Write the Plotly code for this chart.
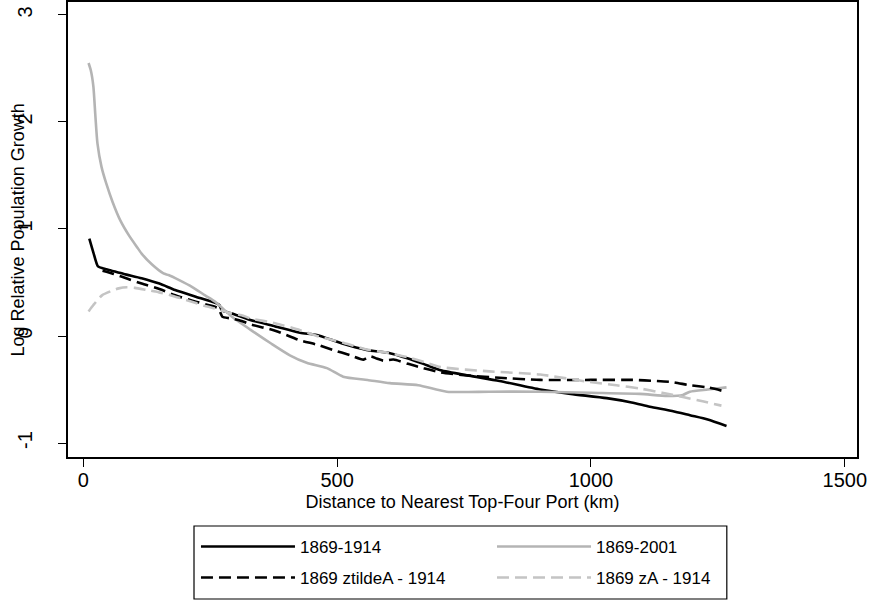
import plotly.graph_objects as go

# ---- data ----
x_1914 = [12, 20, 29, 40, 49, 80, 115, 150, 181, 220, 260, 268, 273, 293, 329, 378, 427, 460, 510, 558,
          604, 640, 670, 704, 760, 820, 900, 960, 1031, 1080, 1116, 1160, 1195, 1230, 1267]
y_1914 = [0.91, 0.78, 0.65, 0.63, 0.62, 0.58, 0.54, 0.49, 0.43, 0.37, 0.31, 0.29, 0.24, 0.21, 0.15, 0.09,
          0.03, 0.01, -0.07, -0.13, -0.16, -0.21, -0.26, -0.32, -0.37, -0.42, -0.50, -0.54, -0.58, -0.62,
          -0.66, -0.70, -0.74, -0.78, -0.84]

x_2001 = [10.5, 15, 20, 24, 28, 36, 45, 58, 73, 90, 106, 115, 135, 158, 168, 190, 214, 240, 260, 293, 329,
          370, 407, 440, 480, 512, 560, 604, 660, 716, 800, 900, 1000, 1096, 1150, 1181, 1195, 1230, 1267]
y_2001 = [2.55, 2.48, 2.33, 2.05, 1.80, 1.58, 1.43, 1.25, 1.08, 0.94, 0.83, 0.77, 0.67, 0.585, 0.57, 0.52,
          0.46, 0.38, 0.32, 0.18, 0.06, -0.07, -0.18, -0.25, -0.30, -0.38, -0.41, -0.44, -0.46, -0.52,
          -0.52, -0.52, -0.53, -0.54, -0.56, -0.55, -0.52, -0.50, -0.48]

x_ztilde = [38, 60, 90, 115, 150, 181, 215, 246, 266, 270, 274, 290, 312, 329, 378, 427, 460, 492, 526, 552,
            565, 578, 591, 611, 640, 670, 704, 760, 820, 900, 1000, 1083, 1130, 1160, 1195, 1230, 1257]
y_ztilde = [0.61, 0.58, 0.53, 0.49, 0.44, 0.38, 0.33, 0.29, 0.26, 0.22, 0.18, 0.165, 0.14, 0.11, 0.05, -0.04,
            -0.08, -0.13, -0.18, -0.22, -0.19, -0.21, -0.23, -0.22, -0.26, -0.30, -0.34, -0.37, -0.39,
            -0.41, -0.41, -0.41, -0.42, -0.43, -0.46, -0.48, -0.51]

x_za = [10.5, 20, 37, 55, 70, 86, 102, 125, 148, 180, 214, 240, 266, 289, 312, 329, 378, 427, 460, 510,
        558, 604, 640, 670, 704, 800, 900, 998, 1050, 1096, 1140, 1181, 1220, 1257]
y_za = [0.23, 0.29, 0.38, 0.42, 0.445, 0.455, 0.45, 0.43, 0.41, 0.37, 0.32, 0.28, 0.25, 0.215, 0.195, 0.165,
        0.12, 0.055, 0.0, -0.06, -0.125, -0.16, -0.20, -0.24, -0.29, -0.33, -0.36, -0.43, -0.46, -0.49,
        -0.53, -0.57, -0.61, -0.65]

names = ["1869-1914", "1869-2001", "1869 ztildeA - 1914", "1869 zA - 1914"]
x_ticks = [0, 500, 1000, 1500]
y_ticks = [-1, 0, 1, 2, 3]
x_title = "Distance to Nearest Top-Four Port (km)"
y_title = "Log Relative Population Growth"

FONT = "Liberation Sans, Arial, sans-serif"
LW = 2.6
DASH = "12px,6px"

fig = go.Figure()
fig.add_trace(go.Scatter(x=x_1914, y=y_1914, mode="lines", name=names[0], legend="legend",
                         legendgroup="a", line=dict(color="black", width=LW, shape="spline", smoothing=0.6)))
fig.add_trace(go.Scatter(x=x_2001, y=y_2001, mode="lines", name=names[1], legend="legend2",
                         legendgroup="b", line=dict(color="#b4b4b4", width=LW, shape="spline", smoothing=0.6)))
fig.add_trace(go.Scatter(x=x_ztilde, y=y_ztilde, mode="lines", name=names[2], legend="legend",
                         legendgroup="c",
                         line=dict(color="black", width=LW, dash=DASH, shape="spline", smoothing=0.6)))
fig.add_trace(go.Scatter(x=x_za, y=y_za, mode="lines", name=names[3], legend="legend2",
                         legendgroup="d",
                         line=dict(color="#c4c4c4", width=LW, dash=DASH, shape="spline", smoothing=0.6)))

leg_common = dict(
    orientation="v", xanchor="left", yanchor="top", y=-0.158,
    borderwidth=0, bgcolor="rgba(0,0,0,0)",
    font=dict(size=17, family=FONT, color="black"),
    itemwidth=94, traceorder="grouped", tracegroupgap=6,
)

fig.update_layout(
    width=872, height=603,
    margin=dict(l=68, r=15, t=2, b=146, autoexpand=False),
    paper_bgcolor="white", plot_bgcolor="white",
    font=dict(family=FONT, color="black"),
    showlegend=True,
    legend=dict(x=0.1622, **leg_common),
    legend2=dict(x=0.5374, **leg_common),
    shapes=[dict(type="rect", xref="paper", yref="paper",
                 x0=0.1597, x1=0.835, y0=-0.3121, y1=-0.1516,
                 line=dict(color="black", width=1.2), fillcolor="rgba(0,0,0,0)", layer="above")],
    annotations=[dict(text=y_title, xref="paper", yref="paper", x=-0.0634, y=0.5,
                      xanchor="center", yanchor="middle", textangle=-90, showarrow=False,
                      font=dict(size=18, family=FONT, color="black"))],
)

fig.update_xaxes(
    range=[-30, 1524], tickvals=x_ticks, ticktext=[str(v) for v in x_ticks],
    showgrid=False, zeroline=False,
    showline=True, linecolor="black", linewidth=1.5, mirror=True,
    ticks="outside", ticklen=8, tickwidth=1.2, tickcolor="black",
    tickfont=dict(size=20, family=FONT), ticklabelstandoff=-4,
    title=dict(text=x_title, font=dict(size=18, family=FONT), standoff=6),
)
fig.update_yaxes(
    range=[-1.13, 3.12], tickvals=y_ticks, ticktext=[str(v) for v in y_ticks],
    showgrid=False, zeroline=False,
    showline=True, linecolor="black", linewidth=1.5, mirror=True,
    ticks="outside", ticklen=8, tickwidth=1.2, tickcolor="black",
    tickangle=-90, tickfont=dict(size=20, family=FONT), ticklabelstandoff=18,
)

fig.write_html("out.html", post_script="document.body.style.margin='0';",
               config={"displayModeBar": False})
